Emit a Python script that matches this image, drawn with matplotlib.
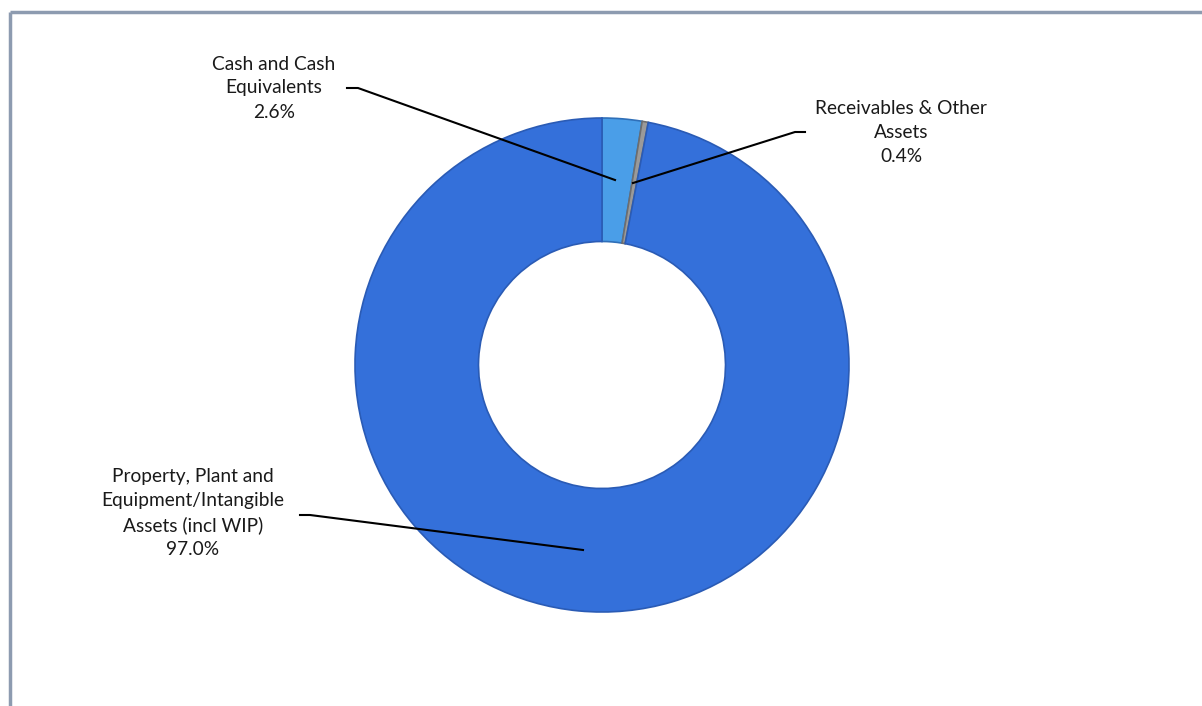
import matplotlib
matplotlib.use("Agg")
import matplotlib.pyplot as plt
from matplotlib.lines import Line2D

categories = ["Cash and Cash\nEquivalents", "Receivables & Other\nAssets",
              "Property, Plant and\nEquipment/Intangible\nAssets (incl WIP)"]
values = [2.6, 0.4, 97.0]
colors = ["#4a9ee8", "#9a9a9a", "#3470da"]
edge_colors = ["#2f6fb8", "#6e6e6e", "#2a5bb5"]

W, H = 1202, 706
fig = plt.figure(figsize=(W / 100, H / 100), dpi=100)
ax = fig.add_axes([0, 0, 1, 1])
ax.set_xlim(0, W)
ax.set_ylim(0, H)
ax.set_aspect("equal")
ax.axis("off")

def py(y):
    return H - y

cx, cy = 602, py(365)
R = 247
wedges, _ = ax.pie(values, colors=colors, startangle=90, counterclock=False,
                   center=(cx, cy), radius=R,
                   wedgeprops=dict(width=R * 0.5, linewidth=1.2))
for w, ec in zip(wedges, edge_colors):
    w.set_edgecolor(ec)
ax.set_xlim(0, W)
ax.set_ylim(0, H)

# frame
ax.add_line(Line2D([10, 10], [py(12), 0], color="#8d9bb0", lw=2.5, solid_capstyle="butt"))
ax.add_line(Line2D([10, W], [py(12), py(12)], color="#8d9bb0", lw=2.5, solid_capstyle="butt"))

labels_txt = [f"{c}\n{v:.1f}%" for c, v in zip(categories, values)]
text_pos = [(274, 88), (901, 132), (193, 513)]
leader = [
    [(347, 88), (358, 88), (615, 180)],
    [(805, 132), (795, 132), (633, 183)],
    [(300, 515), (310, 515), (583, 550)],
]
for t, (tx, ty), pts in zip(labels_txt, text_pos, leader):
    ax.text(tx, py(ty), t, ha="center", va="center", fontsize=13.8,
            family=["Lato", "DejaVu Sans"], color="#1a1a1a", linespacing=1.5)
    xs = [p[0] for p in pts]
    ys = [py(p[1]) for p in pts]
    ax.add_line(Line2D(xs, ys, color="black", lw=1.5))

fig.savefig("out.png", dpi=100, facecolor="white")
